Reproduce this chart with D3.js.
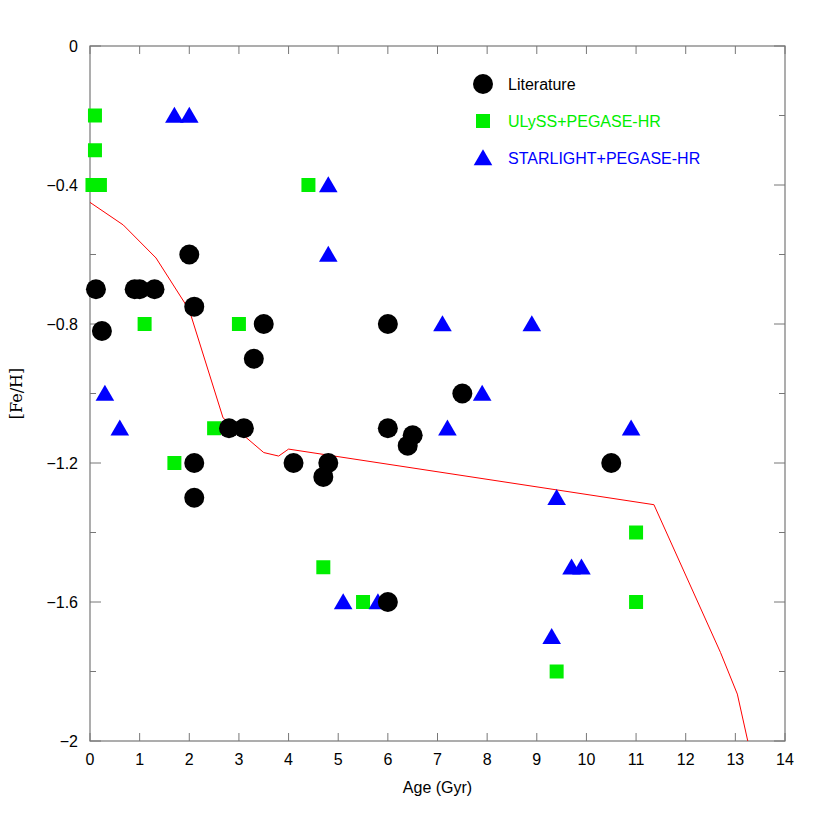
<!DOCTYPE html>
<html><head><meta charset="utf-8">
<script src="https://cdn.jsdelivr.net/npm/d3@7"></script>
<style>body{margin:0;background:#fff}svg{font-family:"Liberation Sans",Arial,sans-serif}</style>
</head><body><svg id="c" width="830" height="830"></svg>
<script>
const litAge=[0.12,0.24,0.9,1.0,1.3,2.0,2.1,2.1,2.1,2.8,3.1,3.3,3.5,4.1,4.7,4.8,6.0,6.0,6.4,6.5,7.5,10.5,6.0];
const litFe=[-0.70,-0.82,-0.7,-0.7,-0.7,-0.6,-0.75,-1.2,-1.3,-1.1,-1.1,-0.9,-0.8,-1.2,-1.24,-1.2,-0.8,-1.1,-1.15,-1.12,-1.0,-1.2,-1.6];
const ulyAge=[0.1,0.1,0.05,0.2,1.1,1.7,2.5,3.0,4.4,4.7,5.5,9.4,11.0,11.0];
const ulyFe=[-0.2,-0.3,-0.4,-0.4,-0.8,-1.2,-1.1,-0.8,-0.4,-1.5,-1.6,-1.8,-1.4,-1.6];
const staAge=[1.7,2.0,4.8,4.8,0.3,0.6,7.1,7.2,7.9,8.9,10.9,9.4,9.7,9.9,9.3,5.1,5.8];
const staFe=[-0.2,-0.2,-0.4,-0.6,-1.0,-1.1,-0.8,-1.1,-1.0,-0.8,-1.1,-1.3,-1.5,-1.5,-1.7,-1.6,-1.6];
const modelAge=[0,0.67,1.33,2.0,2.68,3.5,3.8,3.95,4.0,11.36,12.7,13.04,13.25];
const modelFe=[-0.45,-0.515,-0.61,-0.76,-1.07,-1.17,-1.18,-1.165,-1.16,-1.32,-1.745,-1.865,-2.0];
const xTicks=d3.range(0,15,1);
const yTicks=[0,-0.4,-0.8,-1.2,-1.6,-2];
const yMinor=d3.range(0,-2.01,-0.2);
const legendLabels=["Literature","ULySS+PEGASE-HR","STARLIGHT+PEGASE-HR"];
const colors=["#000","#00ee00","#0000ff"];

const svg=d3.select("#c");
const L=90,R=785,T=46,B=741;
const x=d3.scaleLinear().domain([0,14]).range([L,R]);
const y=d3.scaleLinear().domain([-2,0]).range([B,T]);
const g=svg.append("g");
g.append("rect").attr("x",L).attr("y",T).attr("width",R-L).attr("height",B-T).attr("fill","none").attr("stroke","#777").attr("stroke-width",1.2);
// ticks
xTicks.forEach(v=>{
  g.append("line").attr("x1",x(v)).attr("x2",x(v)).attr("y1",B).attr("y2",B-8).attr("stroke","#777");
  g.append("line").attr("x1",x(v)).attr("x2",x(v)).attr("y1",T).attr("y2",T+8).attr("stroke","#777");
  g.append("text").attr("x",x(v)).attr("y",B+24).attr("text-anchor","middle").attr("font-size",16).text(v);
});
yMinor.forEach(v=>{
  const major=yTicks.some(t=>Math.abs(t-v)<1e-6);
  const len=major?11:6;
  g.append("line").attr("x1",L).attr("x2",L+len).attr("y1",y(v)).attr("y2",y(v)).attr("stroke","#777");
  g.append("line").attr("x1",R).attr("x2",R-len).attr("y1",y(v)).attr("y2",y(v)).attr("stroke","#777");
});
yTicks.forEach(v=>{
  g.append("text").attr("x",L-12).attr("y",y(v)+6).attr("text-anchor","end").attr("font-size",16).text(v===0?"0":d3.format("")(v));
});
g.append("text").attr("x",x(7)).attr("y",B+52).attr("text-anchor","middle").attr("font-size",16).text("Age (Gyr)");
g.append("text").attr("transform",`translate(22,${(T+B)/2}) rotate(-90)`).attr("text-anchor","middle").attr("font-size",16).attr("font-family","'DejaVu Serif','Liberation Serif',serif").text("[Fe/H]");
// model line
g.append("path").datum(modelAge.map((a,i)=>[a,modelFe[i]])).attr("fill","none").attr("stroke","#ff0000").attr("stroke-width",1)
 .attr("d",d3.line().x(d=>x(d[0])).y(d=>y(d[1])));
const sq=d3.symbol().type(d3.symbolSquare).size(196);
const tri=d3.symbol().type(d3.symbolTriangle).size(150);
g.selectAll(".u").data(ulyAge).enter().append("path").attr("d",sq).attr("fill",colors[1])
 .attr("transform",(d,i)=>`translate(${x(d)},${y(ulyFe[i])})`);
g.selectAll(".s").data(staAge).enter().append("path").attr("d",tri).attr("fill",colors[2])
 .attr("transform",(d,i)=>`translate(${x(d)},${y(staFe[i])+2})`);
g.selectAll(".l").data(litAge).enter().append("circle").attr("r",10).attr("fill",colors[0])
 .attr("cx",d=>x(d)).attr("cy",(d,i)=>y(litFe[i]));
// legend
const ly=[84,121,158];
g.append("circle").attr("cx",483).attr("cy",ly[0]).attr("r",10).attr("fill",colors[0]);
g.append("path").attr("d",sq).attr("fill",colors[1]).attr("transform",`translate(483,${ly[1]})`);
g.append("path").attr("d",tri).attr("fill",colors[2]).attr("transform",`translate(483,${ly[2]+2})`);
legendLabels.forEach((t,i)=>g.append("text").attr("x",508).attr("y",ly[i]+6).attr("font-size",16).attr("fill",colors[i]).text(t));
</script></body></html>
